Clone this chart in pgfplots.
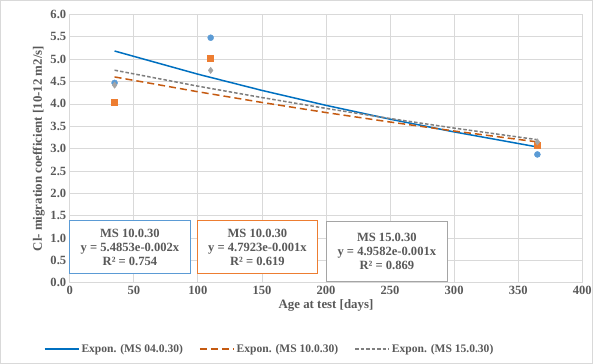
\documentclass[border=0pt]{standalone}
\usepackage{fontspec}
\setmainfont{Liberation Serif}
\usepackage{pgfplots}
\pgfplotsset{compat=1.18}
\definecolor{txt}{HTML}{595959}
\definecolor{gridc}{HTML}{D9D9D9}
\definecolor{mblue}{HTML}{5B9BD5}
\definecolor{morange}{HTML}{ED7D31}
\definecolor{mgray}{HTML}{A5A5A5}
\definecolor{lblue}{HTML}{0070C0}
\definecolor{lorange}{HTML}{C55A11}
\definecolor{lgray}{HTML}{7F7F7F}
\begin{document}
\begin{tikzpicture}[x=1pt,y=1pt]
\draw[gridc,line width=0.8pt] (3,3) rectangle (592,364);
\begin{axis}[
  at={(72pt,83pt)}, anchor=south west,
  scale only axis, width=510pt, height=267pt,
  xmin=0, xmax=400, ymin=0, ymax=6,
  xtick={0,50,...,400}, ytick={0,0.5,...,6},
  grid=major, major grid style={gridc, line width=0.8pt},
  axis line style={gridc, line width=0.8pt},
  axis x line*=bottom, axis y line*=left,
  tick style={draw=none},
  /pgf/number format/assume math mode=true,
  yticklabel style={/pgf/number format/fixed,/pgf/number format/precision=1,/pgf/number format/fixed zerofill, font=\bfseries\fontsize{12.5}{13}\selectfont, text=txt},
  xticklabel style={font=\bfseries\fontsize{12.5}{13}\selectfont, text=txt},
  xlabel={Age at test [days]},
  ylabel={Cl- migration coefficient [10-12 m2/s]},
  label style={font=\bfseries\fontsize{12.8}{14}\selectfont, text=txt},
  xlabel style={yshift=2pt},
  ylabel style={yshift=-1pt},
  legend columns=3,
  legend style={at={(0.39,-0.247)}, anchor=center, draw=none, fill=none,
    font=\bfseries\fontsize{11.5}{13}\selectfont, text=txt,
    /tikz/every even column/.append style={column sep=14pt}},
  legend image code/.code={\draw[#1] (0pt,0pt) -- (34pt,0pt);},
  clip=false,
]
% scatter data
\addplot[only marks, mark=*, mark size=3pt, mblue, forget plot] coordinates {(35,4.47) (110,5.48) (365,2.87)};
\addplot[only marks, mark=square*, mark size=3pt, morange, forget plot] coordinates {(35,4.03) (110,5.02) (365,3.08)};
\addplot[only marks, mark=diamond*, mark size=3.2pt, mgray, forget plot] coordinates {(35,4.42) (110,4.75) (365,3.15)};
% trend lines
\addplot[lblue, line width=1.5pt, no marks] coordinates {(35,5.183) (100,4.665) (150,4.302) (200,3.968) (250,3.659) (300,3.374) (365,3.037)};
\addlegendentry{Expon. (MS 04.0.30)}
\addplot[lorange, line width=1.5pt, no marks, dash pattern=on 7pt off 4pt] coordinates {(35,4.603) (100,4.272) (150,4.033) (200,3.807) (250,3.595) (300,3.394) (365,3.150)};
\addlegendentry{Expon. (MS 10.0.30)}
\addplot[lgray, line width=1.5pt, no marks, dash pattern=on 3.5pt off 2pt] coordinates {(35,4.754) (100,4.397) (150,4.142) (200,3.900) (250,3.673) (300,3.459) (365,3.200)};
\addlegendentry{Expon. (MS 15.0.30)}
% equation boxes
\node[draw=mblue, fill=white, line width=0.8pt, minimum width=120pt, minimum height=53pt, align=center, font=\bfseries\fontsize{12.5}{14}\selectfont, text=txt, inner sep=1pt] at (axis cs:47,0.80) {MS 10.0.30\\y = 5.4853e-0.002x\\R² = 0.754};
\node[draw=morange, fill=white, line width=0.8pt, minimum width=119pt, minimum height=53pt, align=center, font=\bfseries\fontsize{12.5}{14}\selectfont, text=txt, inner sep=1pt] at (axis cs:146.5,0.80) {MS 10.0.30\\y = 4.7923e-0.001x\\R² = 0.619};
\node[draw=mgray, fill=white, line width=0.8pt, minimum width=121pt, minimum height=60pt, align=center, font=\bfseries\fontsize{12.5}{14}\selectfont, text=txt, inner sep=1pt] at (axis cs:247.5,0.70) {MS 15.0.30\\y = 4.9582e-0.001x\\R² = 0.869};
\end{axis}
\end{tikzpicture}
\end{document}
